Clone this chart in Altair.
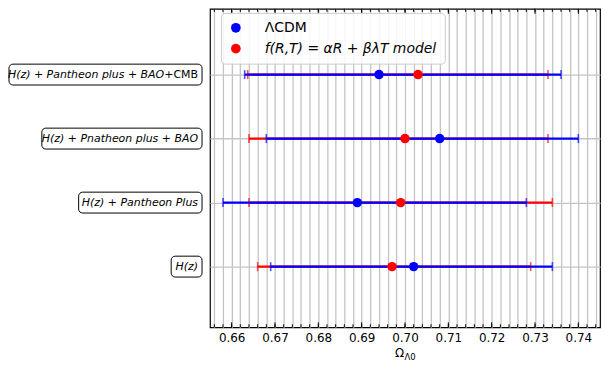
import altair as alt
import pandas as pd

# ---------------- data ----------------
row_index = [1, 2, 3, 4]
label_italic = ["H(z)", "H(z) + Pantheon Plus", "H(z) + Pnatheon plus + BAO", "H(z) + Pantheon plus + BAO"]
label_upright = ["", "", "", "+CMB"]

series_names = ["ΛCDM", "f(R,T) = αR + βλT model"]
series_colors = ["#0000ff", "#ff0000"]

lcdm_best = [0.702, 0.689, 0.708, 0.694]
lcdm_low = [0.669, 0.658, 0.668, 0.663]
lcdm_high = [0.734, 0.728, 0.740, 0.736]

frt_best = [0.697, 0.699, 0.700, 0.703]
frt_low = [0.666, 0.664, 0.664, 0.6637]
frt_high = [0.729, 0.734, 0.733, 0.733]

x_major_ticks = [0.66, 0.67, 0.68, 0.69, 0.70, 0.71, 0.72, 0.73, 0.74]
x_minor_ticks = [round(0.656 + 0.002 * i, 3) for i in range(45)]

# ---------------- style ----------------
X_DOMAIN = [0.655, 0.745]
Y_DOMAIN = [0.052, 5.026]
W, H = 392, 320
box_widths = [31, 124, 161, 194]
FONT = "DejaVu Sans"

rows = []
for i in range(4):
    rows.append(dict(row=row_index[i], series=series_names[1], best=frt_best[i], low=frt_low[i], high=frt_high[i]))
for i in range(4):
    rows.append(dict(row=row_index[i], series=series_names[0], best=lcdm_best[i], low=lcdm_low[i], high=lcdm_high[i]))
df = pd.DataFrame(rows)

labels_df = pd.DataFrame({"row": row_index, "it": label_italic, "up": label_upright})

xscale = alt.Scale(domain=X_DOMAIN, nice=False, zero=False)
yscale = alt.Scale(domain=Y_DOMAIN, nice=False, zero=False)
cscale = alt.Scale(domain=series_names, range=series_colors)

legend = alt.Legend(
    title=None, orient="none", legendX=11, legendY=4,
    symbolType="circle", symbolSize=95, symbolStrokeWidth=0, symbolOpacity=1,
    labelFont=FONT, labelFontSize=14, labelColor="black",
    labelFontStyle=alt.ExprRef(expr="datum && datum.index == 1 ? 'italic' : 'normal'"),
    labelOffset=22, rowPadding=7, padding=8, labelLimit=400,
    fillColor="rgba(255,255,255,0.85)", strokeColor="#cccccc",
    cornerRadius=4)
color_enc = alt.Color("series:N", scale=cscale, legend=legend)

label_expr = "abs(round(datum.value*1000) % 10) == 0 ? format(datum.value, '.2f') : ''"

base = alt.Chart(df)

# grid / axes layer
grid = base.mark_point(opacity=0).encode(
    x=alt.X("best:Q", scale=xscale, axis=alt.Axis(
        values=x_minor_ticks, tickCount=200, grid=True, gridColor="#c4c4c4", gridWidth=1.3,
        ticks=False, domain=False, labelExpr=label_expr, labelFont=FONT,
        labelFontSize=12, labelColor="black", labelPadding=5,
        labelOverlap=False, labelFlush=False, title=None)),
    y=alt.Y("row:Q", scale=yscale, axis=alt.Axis(
        values=row_index, grid=True, gridColor="#c4c4c4", gridWidth=1.3,
        labels=False, ticks=False, domain=False, title=None)),
)

# inward tick marks
maj_df = pd.DataFrame({"v": x_major_ticks})
min_df = pd.DataFrame({"v": x_minor_ticks})
tick_layers = []
for d, ln in [(maj_df, 5), (min_df, 3)]:
    tick_layers.append(alt.Chart(d).mark_rule(color="black", strokeWidth=1).encode(
        x=alt.X("v:Q", scale=xscale), y=alt.value(H), y2=alt.value(H - ln)))
    tick_layers.append(alt.Chart(d).mark_rule(color="black", strokeWidth=1).encode(
        x=alt.X("v:Q", scale=xscale), y=alt.value(0), y2=alt.value(ln)))


def err_layers(name):
    src = base.transform_filter(alt.datum.series == name)
    line = src.mark_rule(strokeWidth=2.2).encode(
        x=alt.X("low:Q", scale=xscale), x2="high:Q",
        y=alt.Y("row:Q", scale=yscale),
        color=color_enc)
    caps = src.transform_fold(["low", "high"], as_=["k", "xv"]).mark_tick(
        orient="vertical", size=9, thickness=1.6).encode(
        x=alt.X("xv:Q", scale=xscale), y=alt.Y("row:Q", scale=yscale),
        color=color_enc)
    return [line, caps]


points = base.mark_circle(size=90, opacity=1).encode(
    x=alt.X("best:Q", scale=xscale),
    y=alt.Y("row:Q", scale=yscale),
    color=color_enc,
)

# y label boxes and texts
box_layers = []
for i, w in enumerate(box_widths):
    box_layers.append(alt.Chart(labels_df).transform_filter(alt.datum.row == row_index[i]).mark_rect(
        fill="white", stroke="black", strokeWidth=1, cornerRadius=4,
        yOffset=-10.5, y2Offset=10.5).encode(
        x=alt.value(-8 - w), x2=alt.value(-8),
        y=alt.Y("row:Q", scale=yscale), y2=alt.Y2("row:Q")))

txt_plain = alt.Chart(labels_df).transform_filter(alt.datum.up == "").mark_text(
    align="right", baseline="middle", font=FONT, fontSize=11, fontStyle="italic", color="black").encode(
    x=alt.value(-12), y=alt.Y("row:Q", scale=yscale), text="it:N")
txt_it2 = alt.Chart(labels_df).transform_filter(alt.datum.up != "").mark_text(
    align="right", baseline="middle", font=FONT, fontSize=11, fontStyle="italic", color="black").encode(
    x=alt.value(-46), y=alt.Y("row:Q", scale=yscale), text="it:N")
txt_up = alt.Chart(labels_df).transform_filter(alt.datum.up != "").mark_text(
    align="right", baseline="middle", font=FONT, fontSize=11, color="black").encode(
    x=alt.value(-12), y=alt.Y("row:Q", scale=yscale), text="up:N")

# x axis title  Ω_{Λ0}
t1 = alt.Chart(pd.DataFrame({"t": ["Ω"]})).mark_text(
    align="right", baseline="alphabetic", font=FONT, fontSize=12, color="black").encode(
    x=alt.value(195), y=alt.value(350), text="t:N")
t2 = alt.Chart(pd.DataFrame({"t": ["Λ0"]})).mark_text(
    align="left", baseline="alphabetic", font=FONT, fontSize=8.5, color="black").encode(
    x=alt.value(195.5), y=alt.value(353), text="t:N")

layers = [grid] + tick_layers + err_layers(series_names[1]) + err_layers(series_names[0]) + [points] + box_layers + [txt_plain, txt_it2, txt_up, t1, t2]

chart = alt.layer(*layers).properties(
    width=W, height=H,
    autosize=alt.AutoSizeParams(type="none"),
    padding={"left": 203, "top": 0, "right": 4, "bottom": 38},
    background="white",
).configure_view(stroke="black", strokeWidth=1.2)

chart.save("out.html", embed_options={"renderer": "svg", "actions": False})
